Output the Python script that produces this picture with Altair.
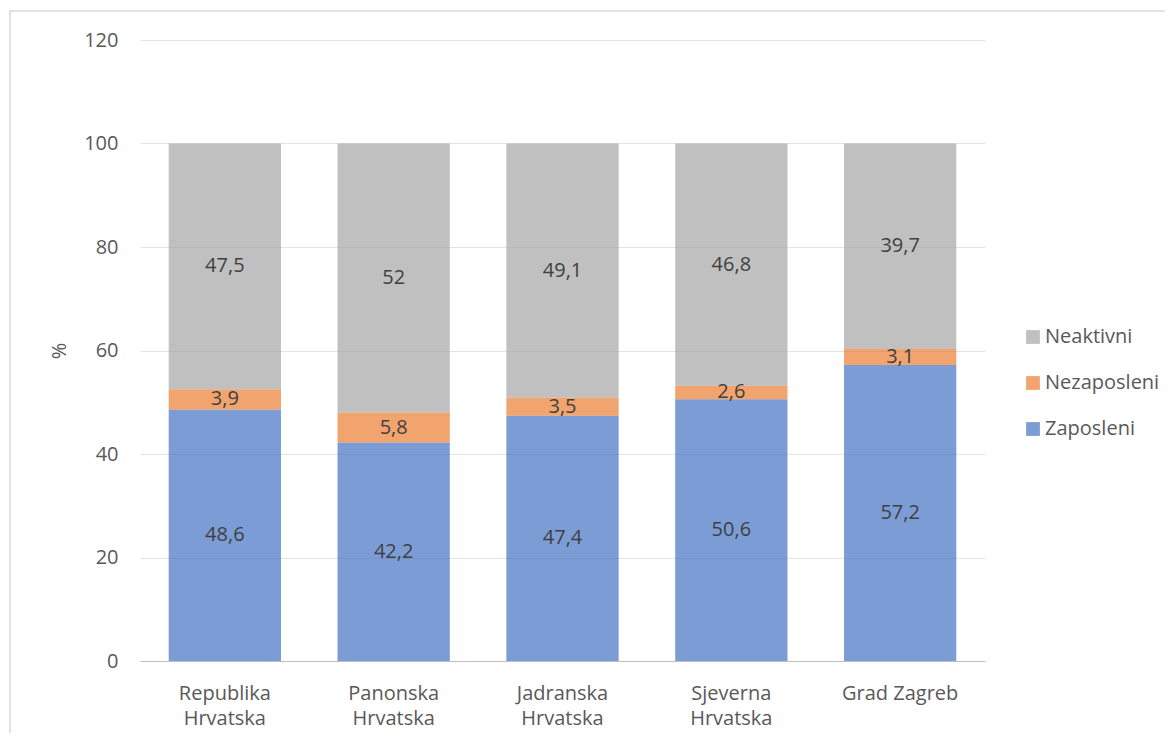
import altair as alt
import pandas as pd

categories = ["Republika Hrvatska", "Panonska Hrvatska", "Jadranska Hrvatska", "Sjeverna Hrvatska", "Grad Zagreb"]
series = ["Zaposleni", "Nezaposleni", "Neaktivni"]
zaposleni = [48.6, 42.2, 47.4, 50.6, 57.2]
nezaposleni = [3.9, 5.8, 3.5, 2.6, 3.1]
neaktivni = [47.5, 52.0, 49.1, 46.8, 39.7]
colors = ["#4472C4", "#ED7D31", "#A5A5A5"]
y_ticks = [0, 20, 40, 60, 80, 100, 120]

rows = []
for s_i, (s, vals) in enumerate(zip(series, [zaposleni, nezaposleni, neaktivni])):
    for c, v in zip(categories, vals):
        rows.append({"kategorija": c, "serija": s, "vrijednost": v, "red": s_i,
                     "oznaka": f"{v:g}".replace(".", ",")})
df = pd.DataFrame(rows)

FONT = "Open Sans"
FS = 20

base = alt.Chart(df).encode(
    x=alt.X("kategorija:N", sort=categories, title=None,
            scale=alt.Scale(paddingInner=0.335, paddingOuter=0.17),
            axis=alt.Axis(labelAngle=0, ticks=False, domain=True, domainColor="#bfbfbf",
                          labelFontSize=FS, labelColor="#595959", labelFont=FONT,
                          labelPadding=22, labelLineHeight=25, labelBaseline="top",
                          labelExpr="datum.label == 'Grad Zagreb' ? datum.label : split(datum.label, ' ')")),
    y=alt.Y("sum(vrijednost):Q", title="%", stack="zero",
            scale=alt.Scale(domain=[0, 120], nice=False),
            axis=alt.Axis(values=y_ticks, ticks=False, domain=False, grid=True, gridColor="#e3e3e3",
                          labelFontSize=FS, labelColor="#595959", labelFont=FONT, labelPadding=22,
                          titleFontSize=FS, titleColor="#595959", titleFont=FONT, titleFontWeight="normal",
                          titlePadding=14)),
)

bars = base.mark_bar(opacity=0.7).encode(
    color=alt.Color("serija:N", sort=["Neaktivni", "Nezaposleni", "Zaposleni"],
                    scale=alt.Scale(domain=series, range=colors),
                    legend=alt.Legend(title=None, orient="none", legendX=883, legendY=287,
                                      symbolType="square", symbolSize=190, symbolOpacity=0.7,
                                      symbolStrokeWidth=0, labelFontSize=FS, labelColor="#595959",
                                      labelFont=FONT, rowPadding=26, labelOffset=2,
                                      values=["Neaktivni", "Nezaposleni", "Zaposleni"])),
    order=alt.Order("red:Q", sort="ascending"),
)

labels = alt.Chart(df).transform_stack(
    stack="vrijednost", groupby=["kategorija"], as_=["y0", "y1"],
    sort=[alt.SortField("red", order="ascending")]
).transform_calculate(mid="(datum.y0 + datum.y1) / 2").mark_text(
    fontSize=FS, color="#404040", font=FONT, baseline="middle"
).encode(
    x=alt.X("kategorija:N", sort=categories),
    y=alt.Y("mid:Q"),
    text="oznaka:N",
)

border = alt.Chart(pd.DataFrame({"a": [0]})).mark_rect(
    fill=None, stroke="#d9d9d9", strokeWidth=1.5
).encode(x=alt.value(-130), x2=alt.value(1300), y=alt.value(-29), y2=alt.value(900))

chart = alt.layer(bars, labels, border).properties(
    width=845, height=621,
    autosize=alt.AutoSizeParams(type="none"),
    padding={"left": 132, "top": 32, "right": 180, "bottom": 72},
).configure_view(stroke=None)

chart.save("out.html", embed_options={"renderer": "svg", "actions": False})
